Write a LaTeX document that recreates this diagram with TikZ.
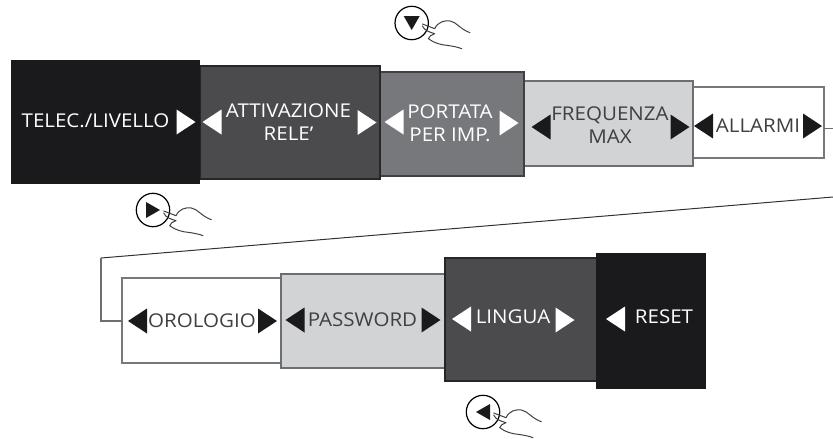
\documentclass[tikz,border=0pt]{standalone}
\usepackage{fontspec}
\setmainfont[FakeStretch=1.08]{Open Sans}
\usetikzlibrary{positioning,calc}
\definecolor{inkblack}{HTML}{1A191C}
\definecolor{darkgrey}{HTML}{4B4B4D}
\definecolor{midgrey}{HTML}{77787B}
\definecolor{lightgrey}{HTML}{D1D3D4}
\definecolor{edgegrey}{HTML}{6D6E71}
\tikzset{
  menubox/.style={draw=#1, rectangle, line width=2pt, inner sep=0pt, outer sep=0pt},
  lbl/.style={font=\fontsize{19}{23}\selectfont, align=center, inner sep=0pt},
  presshand/.pic={
    \draw[line width=1.2pt, fill=white] (0,0) circle (16.7);
    \fill[inkblack, rotate=#1] (-7,-8) -- (7,0) -- (-7,8) -- cycle;
    \draw[line width=1pt, black!75, line cap=round, line join=round]
      (10.7,1) -- (23,5.7) .. controls (26,-1) and (33,-3) .. (38.3,-2)
      .. controls (45,-1) and (48,6) .. (58.3,9.7);
    \draw[line width=1pt, black!75, line cap=round, line join=round]
      (10.7,3) .. controls (13,8) and (18,9) .. (23,10.7)
      .. controls (20,12) and (17,13) .. (16.7,15.7)
      .. controls (22,20) and (30,22) .. (35,22.3)
      .. controls (40,23) and (46,24) .. (50,25.7);
  }
}
\begin{document}
\begin{tikzpicture}[x=1pt, y=-1pt]
  \useasboundingbox (0,0) rectangle (833,439);

  % Upper row
  \node[menubox=midgrey, fill=white, minimum width=131pt, minimum height=71pt] (allarmi) at (758.5,122.5) {};
  \node[menubox=edgegrey, fill=lightgrey, minimum width=169pt, minimum height=85pt] (frequenza) at (608.5,123.5) {};
  \node[menubox=black!75, fill=midgrey, minimum width=144pt, minimum height=104pt] (portata) at (452,124) {};
  \node[menubox=black!85, fill=darkgrey, minimum width=180pt, minimum height=113pt] (attivazione) at (290,122.5) {};
  \node[menubox=inkblack, fill=inkblack, minimum width=187pt, minimum height=122pt] (telec) at (105.5,122) {};

  % Lower row
  \node[menubox=midgrey, fill=white, minimum width=159pt, minimum height=85pt] (orologio) at (201.5,320.5) {};
  \node[menubox=edgegrey, fill=lightgrey, minimum width=164pt, minimum height=94pt] (password) at (363,321) {};
  \node[menubox=black!85, fill=darkgrey, minimum width=152pt, minimum height=123pt] (lingua) at (521,319.5) {};
  \node[menubox=inkblack, fill=inkblack, minimum width=108pt, minimum height=134pt] (reset) at (651,321) {};

  % Labels
  \node[lbl, white] (telectxt) at (95.5,121) {TELEC./LIVELLO};
  \node[lbl, white] (attivtxt) at (288.5,122.5) {ATTIVAZIONE\\RELE'};
  \node[lbl, white] (portatxt) at (450,123.5) {PORTATA\\PER IMP.};
  \node[lbl, black!75] (freqtxt) at (610,125.5) {FREQUENZA\\MAX};
  \node[lbl, black!75] (allatxt) at (758,126) {ALLARMI};
  \node[lbl, black!75] (orolotxt) at (202,321) {OROLOGIO};
  \node[lbl, black!75] (passtxt) at (362.5,320) {PASSWORD};
  \node[lbl, white] (linguatxt) at (513,317) {LINGUA};
  \node[lbl, white] (resettxt) at (664,317) {RESET};

  % White arrow heads
  \foreach \x/\y in {186/122,367/122.5,509/123,565/320}
    \fill[white] (\x-9.5,\y-12.5) -- (\x+9.5,\y) -- (\x-9.5,\y+12.5) -- cycle;
  \foreach \x/\y in {212/122,394/122,461.5/319,615.5/319}
    \fill[white] (\x+9.5,\y-12.5) -- (\x-9.5,\y) -- (\x+9.5,\y+12.5) -- cycle;

  % Black arrow heads
  \foreach \x/\y in {680/127,812.5/126,267.5/321,431/320}
    \fill[inkblack] (\x-9.5,\y-12.5) -- (\x+9.5,\y) -- (\x-9.5,\y+12.5) -- cycle;
  \foreach \x/\y in {541/127,703.5/126,137.5/321,295/320}
    \fill[inkblack] (\x+9.5,\y-12.5) -- (\x-9.5,\y) -- (\x+9.5,\y+12.5) -- cycle;

  % Link between the rows
  \coordinate (stubend) at (833,128);
  \coordinate (slopestart) at (833,197);
  \coordinate (slopeend) at (101,258);
  \coordinate (drop) at (101,321);
  \draw[line width=1pt, edgegrey] (allarmi.east |- stubend) -- (stubend);
  \draw[line width=1pt, black!80] (slopestart) -- (slopeend);
  \draw[line width=1.2pt, edgegrey] (slopeend) -- (drop) -- (orologio.west |- drop);

  % Pressing hands
  \pic at (411.7,23) {presshand=-90};
  \pic at (153,210) {presshand=0};
  \pic at (483,412) {presshand=180};
\end{tikzpicture}
\end{document}
